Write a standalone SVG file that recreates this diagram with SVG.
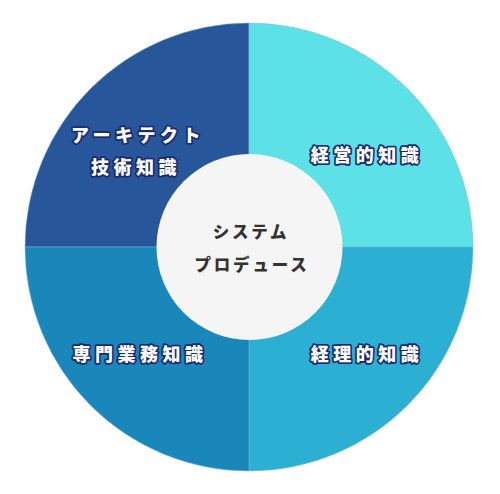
<svg xmlns="http://www.w3.org/2000/svg" width="500" height="494" viewBox="0 0 500 494">
<style>
.q{stroke:#7fb7dc;stroke-width:0.8;stroke-opacity:0.6}
.lbl{font-family:"Noto Sans CJK JP","Noto Sans",sans-serif;font-weight:900;font-size:18px;fill:#fff;stroke:#1b2a70;stroke-width:3.5;stroke-linejoin:round;paint-order:stroke;letter-spacing:4.5px;text-anchor:middle;dominant-baseline:central}
.ctr{font-family:"Noto Sans CJK JP","Noto Sans",sans-serif;font-weight:900;font-size:16.5px;fill:#333;letter-spacing:2.8px;text-anchor:middle;dominant-baseline:central}
</style>
<rect width="500" height="494" fill="#fff"/>
<g id="quadrants">
<path id="q-tl" class="q" d="M249,247 L25,247 A224,224 0 0 1 249,23 Z" fill="#27579a"/>
<path id="q-tr" class="q" d="M249,247 L249,23 A224,224 0 0 1 473,247 Z" fill="#5ce1e6"/>
<path id="q-br" class="q" d="M249,247 L473,247 A224,224 0 0 1 249,471 Z" fill="#2bb0d3"/>
<path id="q-bl" class="q" d="M249,247 L249,471 A224,224 0 0 1 25,247 Z" fill="#1a87bb"/>
</g>
<g id="node-architect"><text class="lbl" x="138" y="134">アーキテクト</text><text class="lbl" x="136" y="166">技術知識</text></g>
<g id="node-keiei"><text class="lbl" x="367" y="154">経営的知識</text></g>
<g id="node-senmon"><text class="lbl" x="140" y="353">専門業務知識</text></g>
<g id="node-keiri"><text class="lbl" x="367" y="353">経理的知識</text></g>
<g id="node-center">
<circle cx="249.5" cy="247" r="93" fill="#f5f5f5"/>
<text class="ctr" x="251" y="231">システム</text>
<text class="ctr" x="252" y="264">プロデュース</text>
</g>
</svg>
